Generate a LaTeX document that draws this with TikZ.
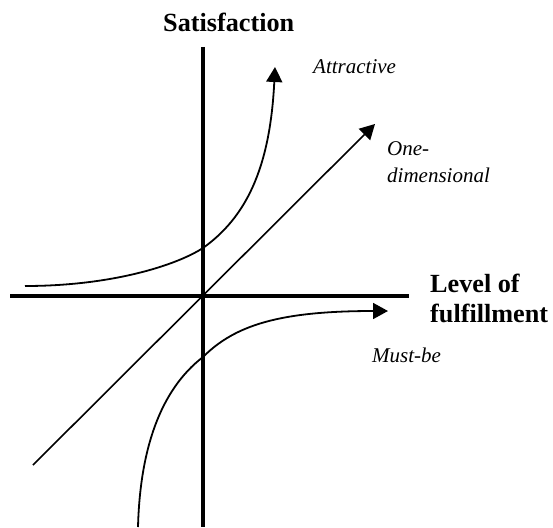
\documentclass[tikz,border=0pt]{standalone}
\usepackage{fontspec}
\setmainfont{Liberation Serif}
\usetikzlibrary{arrows.meta}
\begin{document}
\begin{tikzpicture}[x=1pt,y=-1pt,
  axis/.style={line width=3.5pt},
  curve/.style={line width=1.8pt, -{Triangle[length=15pt,width=16pt]}},
  axislabel/.style={inner sep=0pt, anchor=base west, font=\fontsize{26.2}{30}\selectfont\bfseries},
  curvelabel/.style={inner sep=0pt, anchor=base west, font=\fontsize{21}{25}\selectfont\itshape}]
\useasboundingbox (0,0) rectangle (553,527);
% axes
\coordinate (ytop) at (203,47);
\coordinate (ybot) at (203,527);
\coordinate (xleft) at (10,296);
\coordinate (xright) at (409,296);
\draw[axis] (ytop) -- (ybot);
\draw[axis] (xleft) -- (xright);
% axis labels
\node[axislabel] (sat) at (163,32) {Satisfaction};
\node[axislabel] (lev1) at (430,292) {Level of};
\node[axislabel] (lev2) at (430,322) {fulfillment};
% curve points
\coordinate (a0) at (25,286);
\coordinate (a1) at (203,248);
\coordinate (a2) at (275,67);
\coordinate (o0) at (33,465);
\coordinate (o1) at (375,124);
\coordinate (m0) at (138,527);
\coordinate (m1) at (203,357);
\coordinate (m2) at (388,311);
% curves
\draw[curve] (a0) .. controls (110,286) and (175,266) .. (a1)
                  .. controls (245,218) and (270,170) .. (a2);
\draw[curve, line width=1.6pt] (o0) -- (o1);
\draw[curve] (m0) .. controls (140,450) and (160,390) .. (m1)
                  .. controls (235,325) and (280,311) .. (m2);
% curve labels
\node[curvelabel] (attr) at (313,73) {Attractive};
\node[curvelabel] (one1) at (387,155) {One-};
\node[curvelabel] (one2) at (387,182) {dimensional};
\node[curvelabel] (must) at (372,362) {Must-be};
\end{tikzpicture}
\end{document}
